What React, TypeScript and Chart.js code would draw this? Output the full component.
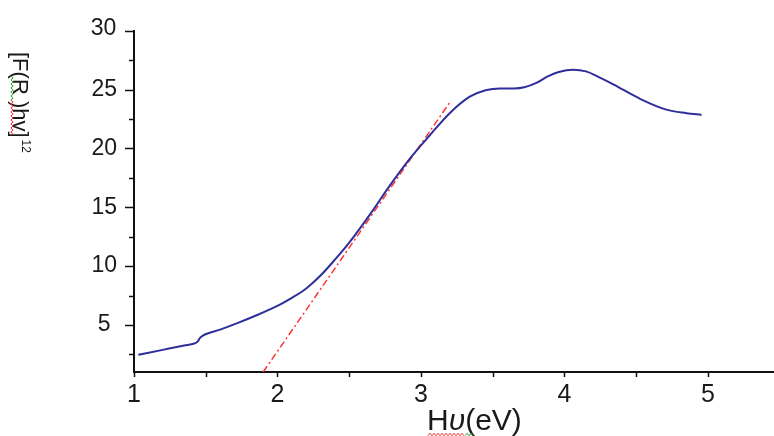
import { useEffect, useRef } from "react";
import { Chart, registerables } from "chart.js";

Chart.register(...registerables);

// Measured curve: photon energy (eV) vs [F(R)hv]^1/2
const curveX = [1.03, 1.2, 1.35, 1.42, 1.445, 1.46, 1.48, 1.6, 1.72, 1.85, 2.02, 2.1, 2.2, 2.3, 2.4, 2.5, 2.645, 2.78, 2.92, 3.06, 3.2, 3.34, 3.45, 3.55, 3.65, 3.72, 3.8, 3.88, 3.96, 4.06, 4.15, 4.25, 4.34, 4.53, 4.71, 4.85, 4.955];
const curveY = [2.46, 2.88, 3.25, 3.42, 3.6, 3.9, 4.1, 4.6, 5.15, 5.8, 6.75, 7.3, 8.1, 9.2, 10.55, 12.0, 14.4, 16.8, 19.1, 21.1, 23.0, 24.4, 24.95, 25.1, 25.1, 25.2, 25.55, 26.1, 26.5, 26.7, 26.55, 26.0, 25.45, 24.2, 23.3, 23.0, 22.85];

// Tangent (band-gap extrapolation) line
const tangentX = [1.9, 3.2];
const tangentY = [1.0, 23.9];

// Axis ticks
const xLabelTicks = [1, 2, 3, 4, 5];
const xAllTicks = [1, 1.5, 2, 2.5, 3, 3.5, 4, 4.5, 5];
const yLabelTicks = [5, 10, 15, 20, 25, 30];
const yAllTicks = [2.5, 5, 7.5, 10, 12.5, 15, 17.5, 20, 22.5, 25, 27.5, 30];

const xTitleParts = ["H", "υ", "(eV)"];
const yTitleMain = "[F(R )hv]";
const yTitleSup = "12";

const FONT = '"Liberation Sans", Arial, sans-serif';

function wavy(ctx: CanvasRenderingContext2D, x0: number, y0: number, x1: number, y1: number, color: string) {
  const dx = x1 - x0, dy = y1 - y0;
  const len = Math.hypot(dx, dy);
  const ux = dx / len, uy = dy / len;
  const nx = -uy, ny = ux;
  ctx.save();
  ctx.strokeStyle = color;
  ctx.lineWidth = 1;
  ctx.beginPath();
  let s = 0, k = 0;
  while (s <= len) {
    const a = k % 2 === 0 ? 1.2 : -1.2;
    const px = x0 + ux * s + nx * a;
    const py = y0 + uy * s + ny * a;
    if (k === 0) ctx.moveTo(px, py); else ctx.lineTo(px, py);
    s += 2; k++;
  }
  ctx.stroke();
  ctx.restore();
}

const decorPlugin = {
  id: "decor",
  afterDraw(chart: any) {
    const { ctx, scales } = chart;
    const xs = scales.x, ys = scales.y;
    const left = chart.chartArea.left;
    const bottom = chart.chartArea.bottom;
    ctx.save();
    ctx.strokeStyle = "#111";
    ctx.lineWidth = 1.5;
    ctx.beginPath();
    for (const v of yAllTicks) {
      const py = Math.round(ys.getPixelForValue(v)) + 0.5;
      const len = v % 5 === 0 ? 9 : 5;
      ctx.moveTo(left - len, py);
      ctx.lineTo(left, py);
    }
    for (const v of xAllTicks) {
      const px = Math.round(xs.getPixelForValue(v)) + 0.5;
      ctx.moveTo(px, bottom);
      ctx.lineTo(px, bottom + 5);
    }
    ctx.stroke();

    // top y label (shifted below its tick as in the reference)
    ctx.fillStyle = "#1a1a1a";
    ctx.font = `23px ${FONT}`;
    ctx.textAlign = "center";
    ctx.textBaseline = "middle";
    ctx.fillText("30", 103.5, 29);

    // x title
    ctx.textAlign = "left";
    ctx.textBaseline = "alphabetic";
    let tx = 427;
    const ty = 430;
    ctx.font = `30px ${FONT}`;
    ctx.fillText(xTitleParts[0], tx, ty);
    tx += ctx.measureText(xTitleParts[0]).width;
    ctx.font = `italic 30px ${FONT}`;
    ctx.fillText(xTitleParts[1], tx, ty);
    tx += ctx.measureText(xTitleParts[1]).width;
    const uEnd = tx;
    ctx.font = `30px ${FONT}`;
    ctx.fillText(xTitleParts[2], tx, ty);
    wavy(ctx, 428, 434.5, uEnd, 434.5, "#e03030");
    wavy(ctx, uEnd, 434.5, uEnd + 8, 434.5, "#30a030");

    // y title, rotated clockwise
    ctx.save();
    ctx.translate(13, 52);
    ctx.rotate(Math.PI / 2);
    ctx.font = `22px ${FONT}`;
    ctx.fillStyle = "#1a1a1a";
    ctx.fillText(yTitleMain, 0, 0);
    const w = ctx.measureText(yTitleMain).width;
    ctx.font = `12px ${FONT}`;
    ctx.fillText(yTitleSup, w + 2, -9);
    ctx.restore();
    wavy(ctx, 12, 76, 12, 100, "#30a030");
    wavy(ctx, 12, 100, 12, 134, "#e03030");

    ctx.restore();
  },
};

export default function App() {
  const ref = useRef<HTMLCanvasElement>(null);
  useEffect(() => {
    if (!ref.current) return;
    const chart = new Chart(ref.current, {
      type: "line",
      data: {
        datasets: [
          {
            label: "curve",
            data: curveX.map((x, i) => ({ x, y: curveY[i] })),
            borderColor: "#2f2f9c",
            borderWidth: 2,
            pointRadius: 0,
            cubicInterpolationMode: "monotone",
            fill: false,
          },
          {
            label: "tangent",
            data: tangentX.map((x, i) => ({ x, y: tangentY[i] })),
            borderColor: "#ff3535",
            borderWidth: 1.5,
            borderDash: [7, 3, 2, 3],
            pointRadius: 0,
            fill: false,
          },
        ],
      },
      options: {
        animation: false,
        responsive: false,
        plugins: { legend: { display: false }, tooltip: { enabled: false } },
        layout: { padding: { top: 14, right: 0, left: 0, bottom: 0 } },
        scales: {
          x: {
            type: "linear",
            min: 1,
            max: 5.46,
            grid: { display: false, drawTicks: false },
            border: { display: true, color: "#111", width: 2 },
            ticks: {
              color: "#1a1a1a",
              font: { family: FONT, size: 25 },
              padding: 8,
              maxRotation: 0,
              callback: (v: any) => String(v),
            },
            afterBuildTicks: (s: any) => {
              s.ticks = xLabelTicks.map((v) => ({ value: v }));
            },
            afterFit: (s: any) => {
              s.height = 64;
            },
          },
          y: {
            type: "linear",
            min: 1,
            max: 30,
            grid: { display: false, drawTicks: false },
            border: { display: true, color: "#111", width: 2 },
            ticks: {
              color: "#1a1a1a",
              font: { family: FONT, size: 23 },
              padding: 17,
              crossAlign: "center",
              callback: (v: any) => (v === 30 ? "" : String(v)),
            },
            afterBuildTicks: (s: any) => {
              s.ticks = yLabelTicks.map((v) => ({ value: v }));
            },
            afterFit: (s: any) => {
              s.width = 134;
            },
          },
        },
      },
      plugins: [decorPlugin],
    } as any);
    return () => chart.destroy();
  }, []);
  return (
    <div style={{ position: "fixed", left: 0, top: 0, width: 774, height: 436, background: "#fff" }}>
      <canvas ref={ref} width={774} height={436} />
    </div>
  );
}
